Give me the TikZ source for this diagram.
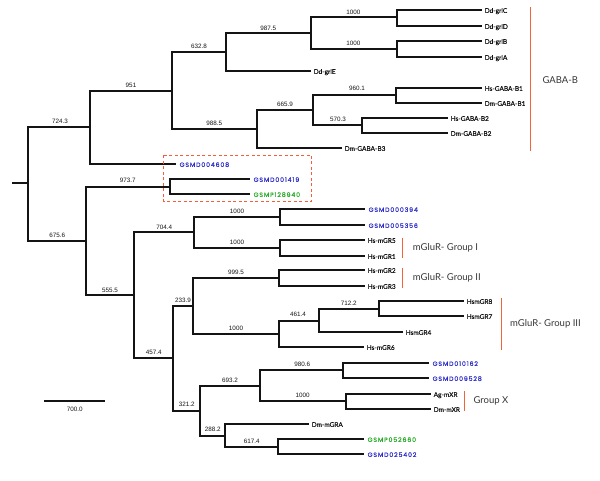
\documentclass[tikz,border=0pt]{standalone}
\usepackage{fontspec}
\setmainfont{Liberation Sans}
\newfontfamily\numfont{Liberation Sans}
\newfontfamily\leaffont[FakeBold=0.4]{Lato}
\newfontfamily\gsmfont[LetterSpace=14,FakeBold=0.6]{Poppins}
\newfontfamily\grpfont{Lato}
\definecolor{gsblue}{RGB}{45,45,200}
\definecolor{gsgreen}{RGB}{40,170,40}
\definecolor{grporange}{RGB}{240,100,60}
\definecolor{boxorange}{RGB}{245,95,55}
\definecolor{ink}{RGB}{20,20,20}
\tikzset{
  branch/.style={line width=1.8pt, draw=ink},
  num/.style={font=\numfont\fontsize{6.3}{7}\selectfont, text=ink, inner sep=0pt},
  leaf/.style={font=\leaffont\fontsize{6.5}{7}\selectfont, text=ink, anchor=west, inner sep=2.5pt, text height=1.4ex, text depth=.3ex},
  gsmblue/.style={font=\gsmfont\fontsize{6.2}{7}\selectfont, text=gsblue, anchor=west, inner sep=3.5pt, text height=1.4ex, text depth=.3ex},
  gsmgreen/.style={gsmblue, text=gsgreen},
  grpbar/.style={line width=1.1pt, draw=grporange},
  grplabel/.style={font=\grpfont\fontsize{9.5}{11}\selectfont, text=ink!85, anchor=west, inner sep=0pt},
}
\begin{document}
\begin{tikzpicture}[x=1pt,y=-1pt]
\useasboundingbox (0,0) rectangle (600,481);
% internal nodes
\coordinate (rs) at (12,183);
\coordinate (r) at (28,183);
\coordinate (n7243) at (90,127);
\coordinate (n6756) at (86,241);
\coordinate (n951) at (172,91);
\coordinate (n6328) at (226,52);
\coordinate (n9875) at (311,33);
\coordinate (n1000a) at (397,17);
\coordinate (n1000b) at (397,49);
\coordinate (n9885) at (257,129);
\coordinate (n6659) at (313,110);
\coordinate (n9601) at (396,95);
\coordinate (n5703) at (362,125);
\coordinate (n9737) at (170,187);
\coordinate (n5555) at (134,295);
\coordinate (n7044) at (194,232);
\coordinate (n1000c) at (280,217);
\coordinate (n1000d) at (280,248);
\coordinate (n4574) at (173,358);
\coordinate (n2339) at (193,306);
\coordinate (n9995) at (279,278);
\coordinate (n1000e) at (279,334);
\coordinate (n4614) at (319,321);
\coordinate (n7122) at (379,309);
\coordinate (n3212) at (200,411);
\coordinate (n6932) at (260,386);
\coordinate (n9806) at (343,370);
\coordinate (n1000f) at (346,401);
\coordinate (n2882) at (225,436);
\coordinate (n6174) at (278,447);
% leaves
\node[leaf] (dC) at (482,10) {Dd-grlC};
\node[leaf] (dD) at (482,26) {Dd-grlD};
\node[leaf] (dB) at (482,41) {Dd-grlB};
\node[leaf] (dA) at (482,57) {Dd-grlA};
\node[leaf] (dE) at (311,71) {Dd-grlE};
\node[leaf] (hB1) at (482,88) {Hs-GABA-B1};
\node[leaf] (mB1) at (482,103) {Dm-GABA-B1};
\node[leaf] (hB2) at (448,118) {Hs-GABA-B2};
\node[leaf] (mB2) at (448,133) {Dm-GABA-B2};
\node[leaf] (mB3) at (342,148) {Dm-GABA-B3};
\node[gsmblue] (g4608) at (176,164) {GSMD004608};
\node[gsmblue] (g1419) at (250,179) {GSMD001419};
\node[gsmgreen] (g8940) at (250,194) {GSMP128940};
\node[gsmblue] (g0394) at (365,209) {GSMD000394};
\node[gsmblue] (g5356) at (365,225) {GSMD005356};
\node[leaf] (gr5) at (365,240) {Hs-mGR5};
\node[leaf] (gr1) at (365,256) {Hs-mGR1};
\node[leaf] (gr2) at (365,270) {Hs-mGR2};
\node[leaf] (gr3) at (365,286) {Hs-mGR3};
\node[leaf] (gr8) at (464,301) {HsmGR8};
\node[leaf] (gr7) at (464,316) {HsmGR7};
\node[leaf] (gr4) at (403,332) {HsmGR4};
\node[leaf] (gr6) at (364,347) {Hs-mGR6};
\node[gsmblue] (g0162) at (429,363) {GSMD010162};
\node[gsmblue] (g9528) at (429,378) {GSMD009528};
\node[leaf] (agx) at (431,394) {Ag-mXR};
\node[leaf] (dmx) at (431,409) {Dm-mXR};
\node[leaf] (dga) at (309,424) {Dm-mGRA};
\node[gsmgreen] (g2660) at (364,439) {GSMP052660};
\node[gsmblue] (g5402) at (364,454) {GSMD025402};
% branches
\draw[branch] (rs) -- (r);
\draw[branch] (r) |- (n7243);
\draw[branch] (r) |- (n6756);
\draw[branch] (n7243) |- (n951);
\draw[branch] (n7243) |- (g4608.west);
\draw[branch] (n951) |- (n6328);
\draw[branch] (n951) |- (n9885);
\draw[branch] (n6328) |- (n9875);
\draw[branch] (n6328) |- (dE.west);
\draw[branch] (n9875) |- (n1000a);
\draw[branch] (n9875) |- (n1000b);
\draw[branch] (n1000a) |- (dC.west);
\draw[branch] (n1000a) |- (dD.west);
\draw[branch] (n1000b) |- (dB.west);
\draw[branch] (n1000b) |- (dA.west);
\draw[branch] (n9885) |- (n6659);
\draw[branch] (n9885) |- (mB3.west);
\draw[branch] (n6659) |- (n9601);
\draw[branch] (n6659) |- (n5703);
\draw[branch] (n9601) |- (hB1.west);
\draw[branch] (n9601) |- (mB1.west);
\draw[branch] (n5703) |- (hB2.west);
\draw[branch] (n5703) |- (mB2.west);
\draw[branch] (n6756) |- (n9737);
\draw[branch] (n6756) |- (n5555);
\draw[branch] (n9737) |- (g1419.west);
\draw[branch] (n9737) |- (g8940.west);
\draw[branch] (n5555) |- (n7044);
\draw[branch] (n5555) |- (n4574);
\draw[branch] (n7044) |- (n1000c);
\draw[branch] (n7044) |- (n1000d);
\draw[branch] (n1000c) |- (g0394.west);
\draw[branch] (n1000c) |- (g5356.west);
\draw[branch] (n1000d) |- (gr5.west);
\draw[branch] (n1000d) |- (gr1.west);
\draw[branch] (n4574) |- (n2339);
\draw[branch] (n4574) |- (n3212);
\draw[branch] (n2339) |- (n9995);
\draw[branch] (n2339) |- (n1000e);
\draw[branch] (n9995) |- (gr2.west);
\draw[branch] (n9995) |- (gr3.west);
\draw[branch] (n1000e) |- (n4614);
\draw[branch] (n1000e) |- (gr6.west);
\draw[branch] (n4614) |- (n7122);
\draw[branch] (n4614) |- (gr4.west);
\draw[branch] (n7122) |- (gr8.west);
\draw[branch] (n7122) |- (gr7.west);
\draw[branch] (n3212) |- (n6932);
\draw[branch] (n3212) |- (n2882);
\draw[branch] (n6932) |- (n9806);
\draw[branch] (n6932) |- (n1000f);
\draw[branch] (n9806) |- (g0162.west);
\draw[branch] (n9806) |- (g9528.west);
\draw[branch] (n1000f) |- (agx.west);
\draw[branch] (n1000f) |- (dmx.west);
\draw[branch] (n2882) |- (dga.west);
\draw[branch] (n2882) |- (n6174);
\draw[branch] (n6174) |- (g2660.west);
\draw[branch] (n6174) |- (g5402.west);
% bootstrap values
\node[num] (b7243) at (60,121.7) {724.3};
\node[num] (b951) at (131,85.3) {951};
\node[num] (b6328) at (199,46.7) {632.8};
\node[num] (b9875) at (268.3,28) {987.5};
\node[num] (b1000a) at (353.3,12.7) {1000};
\node[num] (b1000b) at (353.3,43.3) {1000};
\node[num] (b9885) at (214.3,123.3) {988.5};
\node[num] (b6659) at (285,104.3) {665.9};
\node[num] (b9601) at (357,88.5) {960.1};
\node[num] (b5703) at (338,119.3) {570.3};
\node[num] (b9737) at (127.7,180.7) {973.7};
\node[num] (b6756) at (57.3,235.3) {675.6};
\node[num] (b5555) at (110,290) {555.5};
\node[num] (b7044) at (164.3,227) {704.4};
\node[num] (b1000c) at (237,211.7) {1000};
\node[num] (b1000d) at (237,242.3) {1000};
\node[num] (b4574) at (153.7,352.3) {457.4};
\node[num] (b2339) at (183,300.7) {233.9};
\node[num] (b9995) at (236,272.7) {999.5};
\node[num] (b1000e) at (236,328.3) {1000};
\node[num] (b4614) at (298,314.7) {461.4};
\node[num] (b7122) at (348.7,303.7) {712.2};
\node[num] (b3212) at (186.7,404.7) {321.2};
\node[num] (b6932) at (230,380) {693.2};
\node[num] (b2882) at (212.7,429.3) {288.2};
\node[num] (b9806) at (302.3,364.3) {980.6};
\node[num] (b1000f) at (302.7,395.3) {1000};
\node[num] (b6174) at (251.7,441) {617.4};
% dashed box
\draw[draw=boxorange, line width=1.2pt, dash pattern=on 3pt off 2.5pt] (163.5,155.5) rectangle (311.5,201.5);
% group bars
\coordinate (gbT) at (530.5,7); \coordinate (gbB) at (530.5,151);
\draw[grpbar] (gbT) -- (gbB);
\node[grplabel] (gbL) at (542.3,80) {GABA-B};
\coordinate (g1T) at (402.5,238); \coordinate (g1B) at (402.5,258);
\draw[grpbar] (g1T) -- (g1B);
\node[grplabel] (g1L) at (412.7,248.3) {mGluR- Group I};
\coordinate (g2T) at (402.5,268); \coordinate (g2B) at (402.5,288);
\draw[grpbar] (g2T) -- (g2B);
\node[grplabel] (g2L) at (412.7,278.3) {mGluR- Group II};
\coordinate (g3T) at (501.5,298); \coordinate (g3B) at (501.5,350);
\draw[grpbar] (g3T) -- (g3B);
\node[grplabel] (g3L) at (510,324) {mGluR- Group III};
\coordinate (gxT) at (464.5,391); \coordinate (gxB) at (464.5,411);
\draw[grpbar] (gxT) -- (gxB);
\node[grplabel] (gxL) at (473.3,401) {Group X};
% scale bar
\coordinate (sbL) at (44,401); \coordinate (sbR) at (105,401);
\draw[branch] (sbL) -- (sbR);
\node[num] (sbT) at (74.7,409.3) {700.0};
\end{tikzpicture}
\end{document}
